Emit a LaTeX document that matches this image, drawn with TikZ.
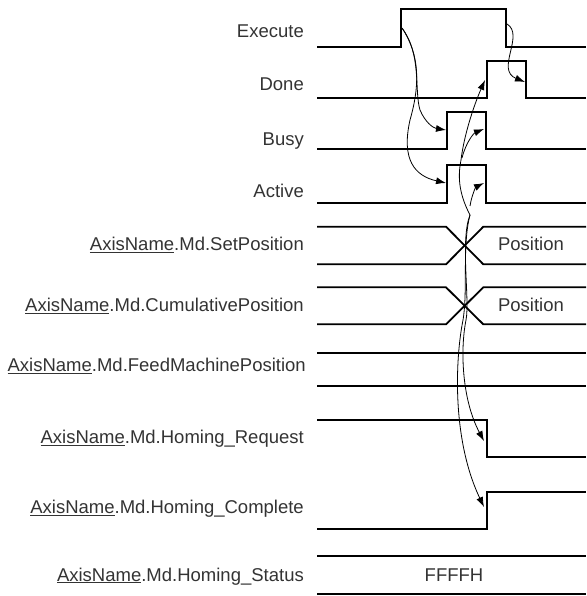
\documentclass[tikz,border=0pt]{standalone}
\usepackage{fontspec}
\setmainfont{Liberation Sans}
\usetikzlibrary{arrows.meta}
\begin{document}
\begin{tikzpicture}[x=1pt,y=-1pt,
  sig/.style={line width=1.8pt,line join=miter},
  lbl/.style={anchor=base east,inner sep=0pt,text=black!80,font=\fontsize{18.5}{20}\selectfont},
  val/.style={anchor=base,inner sep=0pt,text=black!80,font=\fontsize{18.5}{20}\selectfont},
  cause/.style={line width=0.8pt,-{Latex[length=10pt,width=7pt]}},
  plain/.style={line width=0.8pt}]
\useasboundingbox (0,0) rectangle (586,596);
% labels
\node[lbl] (lExe) at (304,37.7) {Execute};
\node[lbl] (lDone) at (304,90.7) {Done};
\node[lbl] (lBusy) at (304,145.7) {Busy};
\node[lbl] (lAct) at (304,197.7) {Active};
\node[lbl] (lSet) at (304,250.7) {\underline{AxisName}.Md.SetPosition};
\node[lbl] (lCum) at (304,311.7) {\underline{AxisName}.Md.CumulativePosition};
\node[lbl] (lFeed) at (306,371.7) {\underline{AxisName}.Md.FeedMachinePosition};
\node[lbl] (lReq) at (304,443.3) {\underline{AxisName}.Md.Homing\_Request};
\node[lbl] (lCmp) at (304,513.3) {\underline{AxisName}.Md.Homing\_Complete};
\node[lbl] (lSta) at (304,581) {\underline{AxisName}.Md.Homing\_Status};
% signals
\draw[sig] (317,46.7) -- (401,46.7) -- (401,9.3) -- (506,9.3) -- (506,46.7) -- (586,46.7);
\draw[sig] (317,98.3) -- (486.7,98.3) -- (486.7,60.7) -- (526,60.7) -- (526,98.3) -- (586,98.3);
\draw[sig] (317,149.3) -- (446.7,149.3) -- (446.7,111.7) -- (485.7,111.7) -- (485.7,149.3) -- (586,149.3);
\draw[sig] (317,202.7) -- (446.7,202.7) -- (446.7,164.7) -- (485.7,164.7) -- (485.7,202.7) -- (586,202.7);
\draw[sig] (317,226.7) -- (446,226.7) -- (483.3,264.3) -- (586,264.3);
\draw[sig] (317,264.3) -- (446,264.3) -- (483.3,226.7) -- (586,226.7);
\node[val] (vSet) at (531,250.7) {Position};
\draw[sig] (317,287.3) -- (446,287.3) -- (483.3,324.3) -- (586,324.3);
\draw[sig] (317,324.3) -- (446,324.3) -- (483.3,287.3) -- (586,287.3);
\node[val] (vCum) at (531,311.3) {Position};
\draw[sig] (317,352.7) -- (586,352.7);
\draw[sig] (317,386) -- (586,386);
\draw[sig] (317,420) -- (486.7,420) -- (486.7,457.3) -- (586,457.3);
\draw[sig] (317,529) -- (486.7,529) -- (486.7,491.7) -- (586,491.7);
\draw[sig] (317,556) -- (586,556);
\draw[sig] (317,594) -- (586,594);
\node[val] (vSta) at (454,581) {FFFFH};
% edge points
\coordinate (exeR) at (402,28);
\coordinate (exeF) at (507,24);
\coordinate (busyR) at (446,130);
\coordinate (actR) at (446,183);
\coordinate (doneF) at (525,82);
\coordinate (doneR) at (485,80);
\coordinate (busyF) at (484,129);
\coordinate (actF) at (484,183);
\coordinate (J) at (470,215);
\coordinate (reqF) at (484,441);
\coordinate (cmpR) at (484,507);
\coordinate (b1) at (462,158);
\coordinate (b2) at (470,206);
% cause arrows
\draw[cause] (exeR) .. controls (422,55) and (414,90) .. (420,110) .. controls (425,122) and (433,128) .. (busyR);
\draw[cause] (exeR) .. controls (420,55) and (420,85) .. (410,120) .. controls (401,160) and (415,176) .. (actR);
\draw[cause] (exeF) .. controls (525,35) and (495,70) .. (doneF);
\draw[cause] (J) .. controls (458,192) and (458,175) .. (461,160) .. controls (464,135) and (474,105) .. (doneR);
\draw[cause] (b1) .. controls (466,142) and (474,133) .. (busyF);
\draw[cause] (b2) .. controls (472,194) and (476,187) .. (actF);
\draw[cause] (J) .. controls (460,240) and (470,300) .. (466,320) .. controls (460,350) and (462,400) .. (reqF);
\draw[cause] (J) .. controls (462,245) and (468,290) .. (463,320) .. controls (455,360) and (452,440) .. (cmpR);
\end{tikzpicture}
\end{document}
